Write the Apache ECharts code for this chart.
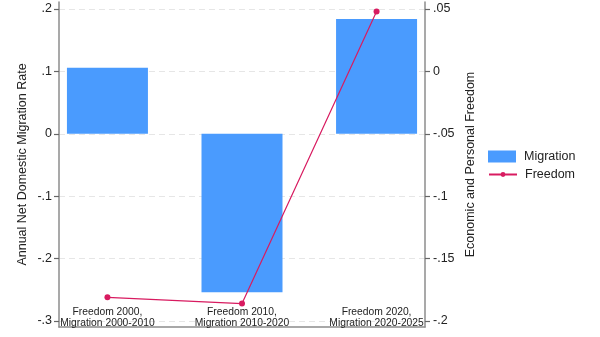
<!DOCTYPE html>
<html><head><meta charset="utf-8">
<script src="https://cdn.jsdelivr.net/npm/echarts@6/dist/echarts.min.js"></script>
<style>html,body{margin:0;padding:0;background:#fff}#c{width:600px;height:337px}</style>
</head><body><div id="c"></div>
<script>
var categories = ["Freedom 2000,\nMigration 2000-2010", "Freedom 2010,\nMigration 2010-2020", "Freedom 2020,\nMigration 2020-2025"];
var positions = [1, 2, 3];
var migration = [0.106, -0.254, 0.184];
var freedom = [-0.181, -0.186, 0.048];
var leftTicks = [0.2, 0.1, 0, -0.1, -0.2, -0.3];
var rightTicks = [0.05, 0, -0.05, -0.1, -0.15, -0.2];

function fmt(v){
  var r = Math.round(v*1000)/1000;
  if (r === 0) return '0';
  var s = String(Math.abs(r)).replace(/^0/, '');
  return (r < 0 ? '-' : '') + s;
}

var font = 'Liberation Sans, Arial, sans-serif';
var axisGray = '#8c8c8c';
var txt = '#222';

var chart = echarts.init(document.getElementById('c'), null, {renderer:'canvas'});
chart.setOption({
  animation: false,
  textStyle: {fontFamily: font},
  legend: [
    {orient: 'vertical', left: 483, top: 145, itemWidth: 28, itemHeight: 12,
     textStyle: {fontSize: 12.5, color: txt, fontFamily: font, padding: [0,0,0,3]},
     data: [{name: 'Migration', icon: 'rect'}]},
    {orient: 'vertical', left: 483, top: 163, itemWidth: 28, itemHeight: 6,
     textStyle: {fontSize: 12.5, color: txt, fontFamily: font, padding: [0,0,0,3]},
     data: [{name: 'Freedom'}]}
  ],
  grid: [
    {left: 59, right: 175, top: 2, bottom: 10},
    {left: 59, right: 175, top: 9, bottom: 16}
  ],
  xAxis: [
    {type: 'value', gridIndex: 0, min: 0.64, max: 3.36, position: 'bottom',
     axisLine: {show: true, lineStyle: {color: axisGray, width: 1.5}},
     axisTick: {show: false}, splitLine: {show: false},
     axisLabel: {show: true, inside: true, margin: -1, customValues: positions,
       formatter: function(v){ var i = positions.indexOf(v); return i >= 0 ? categories[i] : ''; },
       fontSize: 10.3, lineHeight: 10.5, color: txt, fontFamily: font, verticalAlign: 'bottom'}},
    {type: 'value', gridIndex: 1, min: 0.64, max: 3.36, show: false}
  ],
  yAxis: [
    {type: 'value', gridIndex: 0, min: 0, max: 1, position: 'left',
     name: 'Annual Net Domestic Migration Rate', nameLocation: 'middle', nameGap: 30, nameRotate: 90,
     nameTextStyle: {fontSize: 12.5, color: txt, fontFamily: font},
     axisLine: {show: true, lineStyle: {color: axisGray, width: 1.5}},
     axisTick: {show: false}, axisLabel: {show: false}, splitLine: {show: false}},
    {type: 'value', gridIndex: 0, min: 0, max: 1, position: 'right',
     name: 'Economic and Personal Freedom', nameLocation: 'middle', nameGap: 39, nameRotate: 90,
     nameTextStyle: {fontSize: 12.5, color: txt, fontFamily: font},
     axisLine: {show: true, lineStyle: {color: axisGray, width: 1.5}},
     axisTick: {show: false}, axisLabel: {show: false}, splitLine: {show: false}},
    {type: 'value', gridIndex: 1, min: -0.3, max: 0.2, interval: 0.1, position: 'left',
     axisLine: {show: true, lineStyle: {color: 'rgba(0,0,0,0)', width: 1}},
     axisTick: {show: true, length: 5, lineStyle: {color: '#666', width: 1.2}},
     axisLabel: {margin: 7, fontSize: 12.5, color: txt, fontFamily: font, formatter: fmt},
     splitLine: {show: true, lineStyle: {color: '#e6e6e6', type: [6, 4], width: 1}}},
    {type: 'value', gridIndex: 1, min: -0.2, max: 0.05, interval: 0.05, position: 'right',
     axisLine: {show: true, lineStyle: {color: 'rgba(0,0,0,0)', width: 1}},
     axisTick: {show: true, length: 5, lineStyle: {color: '#666', width: 1.2}},
     axisLabel: {margin: 8, fontSize: 12.5, color: txt, fontFamily: font, formatter: fmt},
     splitLine: {show: false}}
  ],
  series: [
    {name: 'Migration', type: 'bar', xAxisIndex: 1, yAxisIndex: 2, barWidth: 81,
     itemStyle: {color: '#4a9bfe'},
     data: positions.map(function(p, i){ return [p, migration[i]]; })},
    {name: 'Freedom', type: 'line', xAxisIndex: 1, yAxisIndex: 3, symbol: 'circle', symbolSize: 6,
     lineStyle: {color: '#d81b60', width: 1.2}, itemStyle: {color: '#d81b60'},
     data: positions.map(function(p, i){ return [p, freedom[i]]; })}
  ]
});
</script></body></html>
